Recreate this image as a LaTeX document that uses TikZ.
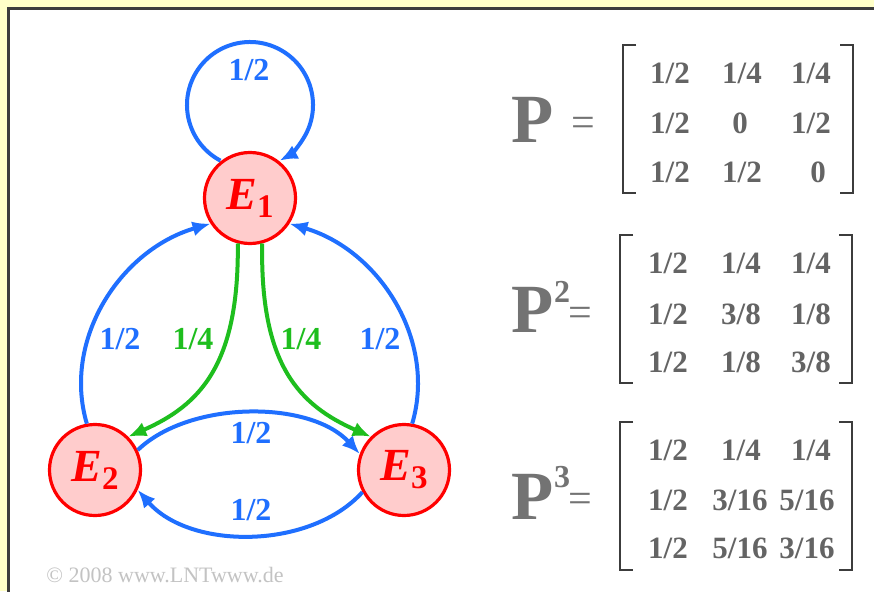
\documentclass[tikz,border=0pt]{standalone}
\usepackage{fontspec}
\setmainfont{Liberation Serif}
\usetikzlibrary{arrows.meta}
\definecolor{eblue}{RGB}{31,111,255}
\definecolor{egreen}{RGB}{30,190,30}
\definecolor{ered}{RGB}{255,0,0}
\definecolor{efill}{RGB}{255,204,204}
\definecolor{mgray}{RGB}{100,100,100}
\definecolor{pgray}{RGB}{115,115,115}
\definecolor{bgyellow}{RGB}{255,255,200}
\definecolor{framegray}{RGB}{60,60,60}
\definecolor{cgray}{RGB}{195,195,195}
\newcommand\esub[1]{\raisebox{-8pt}{\fontsize{33}{33}\selectfont\upshape #1}}
\begin{document}
\begin{tikzpicture}[x=1pt,y=1pt,
  state/.style={circle,draw=ered,fill=efill,line width=3.2pt,minimum size=91pt,inner sep=0pt,
    font=\fontsize{46}{46}\selectfont\bfseries\itshape,text=ered},
  bluearc/.style={draw=eblue,line width=4pt,-{Latex[length=18pt,width=15pt]}},
  greenarc/.style={draw=egreen,line width=4pt,-{Latex[length=18pt,width=15pt]}},
  lbl/.style={font=\fontsize{32}{32}\selectfont\bfseries,inner sep=0pt},
  bluelbl/.style={lbl,text=eblue},
  greenlbl/.style={lbl,text=egreen},
  entry/.style={font=\fontsize{31}{31}\selectfont\bfseries,text=mgray,inner sep=0pt},
  bigP/.style={font=\fontsize{69}{69}\selectfont\bfseries,text=pgray,inner sep=0pt},
  expo/.style={font=\fontsize{32}{32}\selectfont\bfseries,text=pgray,inner sep=0pt},
  eqsign/.style={font=\fontsize{42}{42}\selectfont,text=pgray,inner sep=0pt},
  bracket/.style={draw=framegray,line width=2.8pt},
]
\useasboundingbox (0,0) rectangle (874,-591);
\clip (0,0) rectangle (874,-591);
\fill[bgyellow] (0,0) rectangle (874,-591);
\draw[framegray,fill=white,line width=3pt] (8.5,-8.5) rectangle (900,-620);

% states
\node[state] (e1) at (250,-198) {E\esub{1}};
\node[state] (e2) at (95,-470) {E\esub{2}};
\node[state] (e3) at (404,-470) {E\esub{3}};

% self loop
\coordinate (loopc) at (250,-105);
\draw[bluearc] ([shift={(242:63)}]loopc) arc[start angle=242,end angle=-62,radius=63];
\node[bluelbl] (l11) at (249,-70) {1/2};

% E2 -> E1, E3 -> E1
\draw[bluearc] (e2.100) .. controls (62,-340) and (120,-250) .. (e1.213);
\draw[bluearc] (e3.80) .. controls (437,-340) and (379,-250) .. (e1.327);
\node[bluelbl] (l21) at (120,-339) {1/2};
\node[bluelbl] (l31) at (380,-339) {1/2};

% E1 -> E2, E1 -> E3
\draw[greenarc] (e1.255) .. controls (239,-365) and (200,-405) .. (e2.45);
\draw[greenarc] (e1.285) .. controls (260,-365) and (299,-405) .. (e3.135);
\node[greenlbl] (l12) at (193,-339) {1/4};
\node[greenlbl] (l13) at (301,-339) {1/4};

% E2 <-> E3
\draw[bluearc] (e2.25) .. controls (190,-400) and (310,-400) .. (e3.160);
\draw[bluearc] (e3.208) .. controls (310,-550) and (190,-550) .. (e2.335);
\node[bluelbl] (l23) at (251,-433) {1/2};
\node[bluelbl] (l32) at (251,-510) {1/2};

% copyright
\node[font=\fontsize{22}{22}\selectfont,text=cgray,inner sep=0pt] (copy) at (165,-575) {© 2008 www.LNTwww.de};

% matrix P
\node[bigP] (p1) at (533,-120) {P};
\node[eqsign] (q1) at (583,-127) {=};
\draw[bracket] (636,-45) -- (623,-45) -- (623,-193) -- (636,-193);
\draw[bracket] (840,-45) -- (853,-45) -- (853,-193) -- (840,-193);
\node[entry] (a11) at (670,-73) {1/2};
\node[entry] (a12) at (742,-73) {1/4};
\node[entry] (a13) at (811,-73) {1/4};
\node[entry] (a21) at (670,-123) {1/2};
\node[entry] (a22) at (740,-123) {0};
\node[entry] (a23) at (811,-123) {1/2};
\node[entry] (a31) at (670,-172) {1/2};
\node[entry] (a32) at (742,-172) {1/2};
\node[entry] (a33) at (818,-172) {0};

% matrix P^2
\node[bigP] (p2) at (533,-310) {P};
\node[expo] (x2) at (562,-292) {2};
\node[eqsign] (q2) at (580,-317) {=};
\draw[bracket] (633,-235) -- (620,-235) -- (620,-383) -- (633,-383);
\draw[bracket] (839,-235) -- (852,-235) -- (852,-383) -- (839,-383);
\node[entry] (b11) at (668,-263) {1/2};
\node[entry] (b12) at (741,-263) {1/4};
\node[entry] (b13) at (811,-263) {1/4};
\node[entry] (b21) at (668,-314) {1/2};
\node[entry] (b22) at (741,-314) {3/8};
\node[entry] (b23) at (811,-314) {1/8};
\node[entry] (b31) at (668,-362) {1/2};
\node[entry] (b32) at (741,-362) {1/8};
\node[entry] (b33) at (811,-362) {3/8};

% matrix P^3
\node[bigP] (p3) at (533,-497) {P};
\node[expo] (x3) at (562,-477) {3};
\node[eqsign] (q3) at (580,-503) {=};
\draw[bracket] (633,-422) -- (620,-422) -- (620,-570) -- (633,-570);
\draw[bracket] (839,-422) -- (852,-422) -- (852,-570) -- (839,-570);
\node[entry] (c11) at (668,-450) {1/2};
\node[entry] (c12) at (741,-450) {1/4};
\node[entry] (c13) at (811,-450) {1/4};
\node[entry] (c21) at (668,-500) {1/2};
\node[entry] (c22) at (740,-500) {3/16};
\node[entry] (c23) at (807,-500) {5/16};
\node[entry] (c31) at (668,-548) {1/2};
\node[entry] (c32) at (740,-548) {5/16};
\node[entry] (c33) at (807,-548) {3/16};
\end{tikzpicture}
\end{document}
